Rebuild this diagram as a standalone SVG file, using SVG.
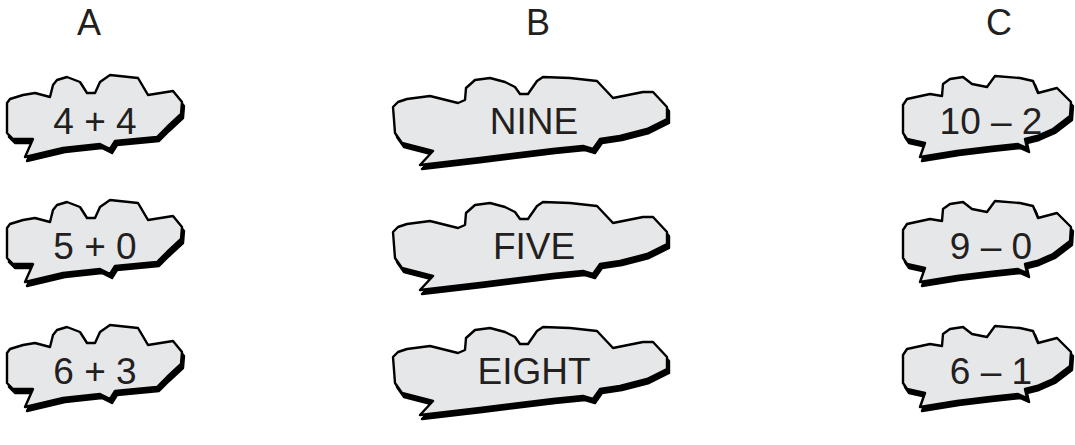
<svg xmlns="http://www.w3.org/2000/svg" xmlns:xlink="http://www.w3.org/1999/xlink" width="1075" height="445" viewBox="0 0 1075 445">
<style>
.bg{fill:#ffffff}
.shadow{fill:#000;stroke:#000;stroke-width:2.4;stroke-linejoin:round}
.cloud{fill:#e6e7e8;stroke:#000;stroke-width:2.4;stroke-linejoin:round}
.lbl{font-family:"Liberation Sans",Arial,sans-serif;font-size:37px;fill:#231f20;text-anchor:middle}
.hdr{font-family:"Liberation Sans",Arial,sans-serif;font-size:36px;fill:#231f20;text-anchor:middle}
</style>
<defs>
<path id="cloudA" d="M7,103 L10,99 L23,95 L35,93 L50,97 L53,85 L57,80 L67,77 L80,82 L87,93 L95,93 L100,82 L110,75 L138,78 L148,95 L173,91 L182,102 L181,114 L167,127 L157,137 L115,141 L110,149 L100,144 L63,148 L25,157 L33,139 L13,139 L7,133 Z"/>
<path id="cloudB" d="M393,107 L398,102 L407,99 L430,96 L458,103 L465,100 L466,88 L475,80 L490,78 L505,82 L515,87 L520,94 L528,94 L537,81 L543,77 L570,78 L597,81 L613,98 L643,92 L653,92 L667,107 L667,119 L647,129 L620,136 L600,139 L593,149 L583,146 L553,149 L480,158 L420,165 L433,151 L402,143 L395,133 Z"/>
<path id="cloudC" d="M903,105 L907,99 L930,94 L942,96 L943,84 L950,79 L963,77 L972,84 L987,87 L995,76 L1020,78 L1033,81 L1038,93 L1057,88 L1071,102 L1070,116 L1053,129 L1037,136 L1025,139 L1027,148 L1018,144 L990,147 L957,151 L920,157 L925,143 L907,139 L903,133 Z"/>
</defs>
<rect class="bg" x="0" y="0" width="1075" height="445"/>
<g id="headers">
<text class="hdr" x="89" y="35">A</text>
<text class="hdr" x="538" y="35">B</text>
<text class="hdr" x="999" y="35">C</text>
</g>
<g id="connectors"></g>
<g id="a1"><use href="#cloudA" class="shadow" transform="translate(2,4)"/><use href="#cloudA" class="cloud"/><text class="lbl" x="95" y="134">4 + 4</text></g>
<g id="a2" transform="translate(0,125)"><use href="#cloudA" class="shadow" transform="translate(2,4)"/><use href="#cloudA" class="cloud"/><text class="lbl" x="95" y="134">5 + 0</text></g>
<g id="a3" transform="translate(0,250)"><use href="#cloudA" class="shadow" transform="translate(2,4)"/><use href="#cloudA" class="cloud"/><text class="lbl" x="95" y="134">6 + 3</text></g>
<g id="b1"><use href="#cloudB" class="shadow" transform="translate(2,4)"/><use href="#cloudB" class="cloud"/><text class="lbl" x="534" y="134">NINE</text></g>
<g id="b2" transform="translate(0,125)"><use href="#cloudB" class="shadow" transform="translate(2,4)"/><use href="#cloudB" class="cloud"/><text class="lbl" x="534" y="134">FIVE</text></g>
<g id="b3" transform="translate(0,250)"><use href="#cloudB" class="shadow" transform="translate(2,4)"/><use href="#cloudB" class="cloud"/><text class="lbl" x="534" y="134">EIGHT</text></g>
<g id="c1"><use href="#cloudC" class="shadow" transform="translate(2,4)"/><use href="#cloudC" class="cloud"/><text class="lbl" x="991" y="134">10 – 2</text></g>
<g id="c2" transform="translate(0,125)"><use href="#cloudC" class="shadow" transform="translate(2,4)"/><use href="#cloudC" class="cloud"/><text class="lbl" x="991" y="134">9 – 0</text></g>
<g id="c3" transform="translate(0,250)"><use href="#cloudC" class="shadow" transform="translate(2,4)"/><use href="#cloudC" class="cloud"/><text class="lbl" x="991" y="134">6 – 1</text></g>
</svg>
